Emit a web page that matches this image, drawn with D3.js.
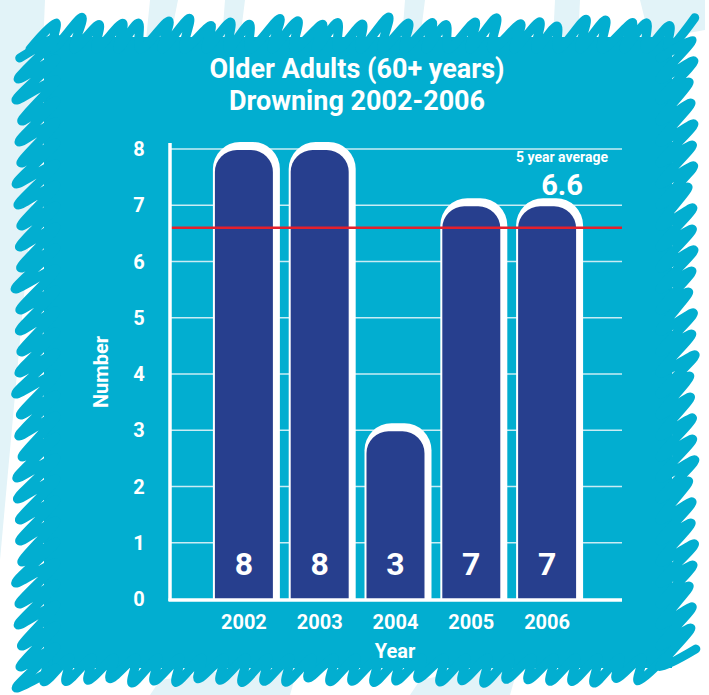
<!DOCTYPE html>
<html>
<head>
<meta charset="utf-8">
<script src="https://cdn.jsdelivr.net/npm/d3@7"></script>
<style>
  html, body { margin: 0; padding: 0; background: #ffffff; }
  svg { display: block; }
  text { font-family: Roboto, "DejaVu Sans", sans-serif; font-weight: 700; fill: #ffffff; }
</style>
</head>
<body>
<svg id="chart" width="709" height="695"></svg>
<script>
// Drowning counts, adults aged 60+
const years = ["2002", "2003", "2004", "2005", "2006"];
const deaths = [8, 8, 3, 7, 7];
const yTicks = [0, 1, 2, 3, 4, 5, 6, 7, 8];
const averageValue = 6.6;
const titleLines = ["Older Adults (60+ years)", "Drowning 2002-2006"];

const W = 709, H = 695;
const panelColor = "#02aed0";
const barColor = "#273f8e";
const svg = d3.select("#chart");

// pale water streaks behind the panel
const streaks = [
  [[0,0],[45,0],[40,120],[0,560]],
  [[150,0],[178,0],[170,40],[146,40]],
  [[225,0],[245,0],[240,40],[222,40]],
  [[405,0],[425,0],[420,40],[402,40]],
  [[555,0],[580,0],[578,40],[553,40]],
  [[640,0],[705,0],[705,30],[650,40]],
  [[160,680],[300,660],[290,695],[150,695]],
  [[420,680],[520,660],[510,695],[410,695]]
];
svg.append("g").selectAll("path").data(streaks).join("path")
  .attr("d", d => d3.line()(d) + "Z")
  .attr("fill", "#e2f3f8");

// panel body with hand-drawn scribble edges
const panel = svg.append("g");
const L = 44, T = 37, R = 672, B = 668;
panel.append("rect").attr("x", L).attr("y", T).attr("width", R - L).attr("height", B - T).attr("fill", panelColor);

const wob = i => Math.sin(i * 2.7) * 0.5 + Math.sin(i * 1.3) * 0.5; // gentle variation in stroke reach
function scribble(points) {
  panel.append("path")
    .attr("d", d3.line().curve(d3.curveCatmullRom.alpha(0.5))(points))
    .attr("fill", "none").attr("stroke", panelColor)
    .attr("stroke-width", 9).attr("stroke-linecap", "round").attr("stroke-linejoin", "round");
}
// top edge: strokes sweep up to the right
let pts = [];
for (let i = 0, x = 30; x < 672; i++, x += 22) {
  pts.push([x, T + 12]);
  pts.push([x + 26 + wob(i) * 6, 22 + wob(i + 3) * 5]);
}
scribble(pts);
// bottom edge
pts = [];
for (let i = 0, x = 22; x < 660; i++, x += 22) {
  pts.push([x, 681 + wob(i + 5) * 3]);
  pts.push([x + 26, B - 10]);
}
scribble(pts);
// left edge
pts = [];
for (let i = 0, y = 44; y < 676; i++, y += 21) {
  pts.push([19 + wob(i + 7) * 4, y + 14]);
  pts.push([L + 12, y - 6]);
}
scribble(pts);
// right edge
pts = [];
for (let i = 0, y = 44; y < 670; i++, y += 21) {
  pts.push([R - 12, y + 14]);
  pts.push([692 + wob(i + 11) * 4, y - 4]);
}
scribble(pts);

// title
svg.append("g").selectAll("text").data(titleLines).join("text")
  .attr("x", 357).attr("y", (d, i) => 78 + i * 32)
  .attr("text-anchor", "middle").attr("font-size", 27)
  .text(d => d);

// scales
const x = d3.scaleBand().domain(years).range([206, 585]).paddingInner(0.235).paddingOuter(0.1175);
const y = d3.scaleLinear().domain([0, 8]).range([599, 149]);
const axisLeft = 170, axisRight = 622;

// horizontal grid lines
svg.append("g").selectAll("line").data(yTicks.filter(t => t > 0)).join("line")
  .attr("x1", axisLeft).attr("x2", axisRight)
  .attr("y1", d => y(d)).attr("y2", d => y(d))
  .attr("stroke", "#c9ecf4").attr("stroke-width", 1.5);

// bars: white rounded backing offset up/right, dark bar in front
const r = 22;
function topRounded(x0, x1, top, bottom, rad) {
  const p = d3.path();
  p.moveTo(x0, bottom);
  p.lineTo(x0, top + rad);
  p.arcTo(x0, top, x0 + rad, top, rad);
  p.lineTo(x1 - rad, top);
  p.arcTo(x1, top, x1, top + rad, rad);
  p.lineTo(x1, bottom);
  p.closePath();
  return p.toString();
}
const bars = svg.append("g").selectAll("g").data(years.map((yr, i) => ({ yr, v: deaths[i] }))).join("g");
bars.append("path")
  .attr("d", d => topRounded(x(d.yr) - 2, x(d.yr) + x.bandwidth() + 7, y(d.v) - 7, y(0), r + 5))
  .attr("fill", "#ffffff");
bars.append("path")
  .attr("d", d => topRounded(x(d.yr), x(d.yr) + x.bandwidth(), y(d.v) + 1, y(0), r))
  .attr("fill", barColor);
bars.append("text")
  .attr("x", d => x(d.yr) + x.bandwidth() / 2).attr("y", 575)
  .attr("text-anchor", "middle").attr("font-size", 32)
  .text(d => d.v);

// five-year average line
svg.append("line")
  .attr("x1", axisLeft).attr("x2", axisRight)
  .attr("y1", y(averageValue)).attr("y2", y(averageValue))
  .attr("stroke", "#e4202c").attr("stroke-width", 2.5);
svg.append("text").attr("x", 562).attr("y", 162).attr("text-anchor", "middle")
  .attr("font-size", 14).text("5 year average");
svg.append("text").attr("x", 562).attr("y", 195).attr("text-anchor", "middle")
  .attr("font-size", 29).text(averageValue.toFixed(1));

// axes
svg.append("line").attr("x1", axisLeft).attr("x2", axisLeft).attr("y1", 143).attr("y2", 601)
  .attr("stroke", "#ffffff").attr("stroke-width", 3.5);
svg.append("line").attr("x1", axisLeft - 1.5).attr("x2", axisRight).attr("y1", y(0) + 1).attr("y2", y(0) + 1)
  .attr("stroke", "#ffffff").attr("stroke-width", 3.5);

svg.append("g").selectAll("text").data(yTicks).join("text")
  .attr("x", 139).attr("y", d => y(d) + 7)
  .attr("text-anchor", "middle").attr("font-size", 20)
  .text(d => d);

svg.append("g").selectAll("text").data(years).join("text")
  .attr("x", d => x(d) + x.bandwidth() / 2).attr("y", 629)
  .attr("text-anchor", "middle").attr("font-size", 20)
  .text(d => d);

svg.append("text").attr("x", 395).attr("y", 658).attr("text-anchor", "middle")
  .attr("font-size", 20).text("Year");
svg.append("text").attr("transform", "translate(108,372) rotate(-90)")
  .attr("text-anchor", "middle").attr("font-size", 20).text("Number");
</script>
</body>
</html>
